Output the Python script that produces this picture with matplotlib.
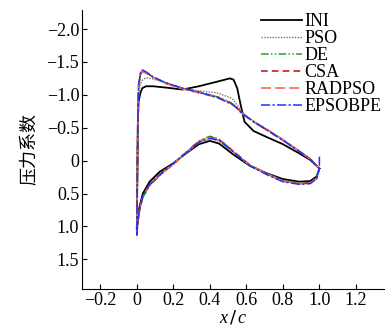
import numpy as np
import matplotlib
matplotlib.use('Agg')
import matplotlib.pyplot as plt

plt.rcParams['font.family'] = ['Liberation Serif', 'Noto Sans CJK SC', 'DejaVu Sans']
plt.rcParams['mathtext.fontset'] = 'custom'
plt.rcParams['mathtext.it'] = 'Liberation Serif:italic'

# upper surface x/c grid (last point repeated for the trailing-edge spike)
xu = [0.0, 0.003, 0.006, 0.01, 0.02, 0.03, 0.05, 0.09, 0.16, 0.25, 0.34, 0.44,
      0.51, 0.53, 0.55, 0.567, 0.59, 0.64, 0.71, 0.80, 0.89, 0.95, 1.0, 1.0]
# lower surface x/c grid
xl = [0.0, 0.005, 0.015, 0.033, 0.07, 0.125, 0.2, 0.27, 0.34, 0.40, 0.45,
      0.53, 0.62, 0.71, 0.80, 0.89, 0.95, 0.985, 1.0]

names = ['INI', 'PSO', 'DE', 'CSA', 'RADPSO', 'EPSOBPE']

cp_upper = {
    'INI':     [1.05, 0.3, -0.6, -0.9, -1.03, -1.10, -1.13, -1.13, -1.11, -1.08, -1.13, -1.20,
                -1.25, -1.23, -1.10, -0.87, -0.59, -0.45, -0.36, -0.25, -0.11, -0.01, 0.12, 0.12],
    'PSO':     [1.08, 0.3, -0.6, -1.0, -1.17, -1.22, -1.26, -1.24, -1.18, -1.10, -1.06, -1.03,
                -0.96, -0.92, -0.84, -0.77, -0.70, -0.60, -0.48, -0.32, -0.15, -0.03, 0.12, 0.12],
    'DE':      [1.10, 0.2, -0.7, -1.12, -1.31, -1.36, -1.34, -1.27, -1.18, -1.10, -1.04, -0.97,
                -0.89, -0.85, -0.80, -0.75, -0.69, -0.59, -0.47, -0.31, -0.14, -0.03, 0.12, 0.12],
    'CSA':     [1.12, 0.2, -0.7, -1.15, -1.32, -1.37, -1.34, -1.27, -1.18, -1.10, -1.04, -0.97,
                -0.88, -0.85, -0.80, -0.75, -0.69, -0.59, -0.47, -0.31, -0.14, -0.02, 0.12, 0.12],
    'RADPSO':  [1.12, 0.2, -0.7, -1.13, -1.30, -1.35, -1.33, -1.26, -1.17, -1.09, -1.03, -0.96,
                -0.88, -0.84, -0.80, -0.75, -0.69, -0.59, -0.48, -0.32, -0.14, -0.02, 0.12, 0.12],
    'EPSOBPE': [1.15, 0.2, -0.7, -1.16, -1.33, -1.38, -1.35, -1.27, -1.18, -1.10, -1.04, -0.96,
                -0.87, -0.84, -0.79, -0.74, -0.69, -0.59, -0.47, -0.31, -0.14, -0.02, 0.12, -0.06],
}

cp_lower = {
    'INI':     [1.05, 0.85, 0.70, 0.50, 0.32, 0.17, 0.04, -0.11, -0.25, -0.30, -0.26,
                -0.09, 0.08, 0.19, 0.28, 0.32, 0.31, 0.24, 0.12],
    'PSO':     [1.08, 0.92, 0.74, 0.55, 0.37, 0.22, 0.06, -0.11, -0.27, -0.33, -0.30,
                -0.12, 0.07, 0.19, 0.30, 0.34, 0.33, 0.26, 0.12],
    'DE':      [1.10, 0.95, 0.76, 0.56, 0.38, 0.23, 0.05, -0.13, -0.30, -0.37, -0.33,
                -0.14, 0.07, 0.20, 0.31, 0.35, 0.34, 0.27, 0.12],
    'CSA':     [1.12, 0.95, 0.75, 0.55, 0.37, 0.22, 0.05, -0.12, -0.29, -0.36, -0.32,
                -0.14, 0.07, 0.20, 0.31, 0.35, 0.34, 0.27, 0.12],
    'RADPSO':  [1.12, 0.94, 0.75, 0.55, 0.37, 0.21, 0.05, -0.12, -0.29, -0.35, -0.31,
                -0.13, 0.07, 0.20, 0.31, 0.35, 0.34, 0.27, 0.12],
    'EPSOBPE': [1.15, 0.95, 0.74, 0.54, 0.36, 0.21, 0.04, -0.12, -0.28, -0.34, -0.31,
                -0.13, 0.08, 0.21, 0.32, 0.36, 0.35, 0.27, 0.12],
}

styles = {
    'INI':     dict(color='black', ls='-', lw=1.3),
    'PSO':     dict(color='0.45', ls=(0, (1, 1)), lw=1.0),
    'DE':      dict(color='#10b010', ls=(0, (5, 1.5, 1, 1.5, 1, 1.5)), lw=1.1),
    'CSA':     dict(color='#c02020', ls=(0, (4, 2.5)), lw=1.2),
    'RADPSO':  dict(color='#ff6a4a', ls=(0, (6, 2.5)), lw=1.2),
    'EPSOBPE': dict(color='#2030ff', ls=(0, (6, 1.5, 1.5, 1.5)), lw=1.1),
}

xticks = [-0.2, 0, 0.2, 0.4, 0.6, 0.8, 1.0, 1.2]
xticklabels = ['\u22120.2', '0', '0.2', '0.4', '0.6', '0.8', '1.0', '1.2']
yticks = [-2.0, -1.5, -1.0, -0.5, 0, 0.5, 1.0, 1.5]
yticklabels = ['\u22122.0', '\u22121.5', '\u22121.0', '\u22120.5', '0', '0.5', '1.0', '1.5']

fig = plt.figure(figsize=(3.85, 3.31), dpi=100)
ax = fig.add_axes([0.213, 0.127, 0.785, 0.843])

for n in names:
    x = list(reversed(xu)) + xl[1:]
    y = list(reversed(cp_upper[n])) + cp_lower[n][1:]
    ax.plot(x, y, label=n, **styles[n])

ax.set_xlim(-0.3, 1.355)
ax.set_ylim(1.95, -2.29)
ax.set_xticks(xticks)
ax.set_xticklabels(xticklabels)
ax.set_yticks(yticks)
ax.set_yticklabels(yticklabels)
ax.tick_params(direction='in', length=3.5, width=0.8, labelsize=13, pad=2)
ax.spines['top'].set_visible(False)
ax.spines['right'].set_visible(False)

ax.set_xlabel('$x\\,/\\,c$', fontsize=13, labelpad=0)
ax.set_ylabel('压力系数', family=['Noto Sans CJK SC'], fontsize=13, labelpad=6)

leg = ax.legend(loc='upper right', bbox_to_anchor=(1.02, 1.02), frameon=False,
                fontsize=13, handlelength=2.3, handletextpad=0.1,
                labelspacing=0.0, borderaxespad=0.1)

fig.savefig('out.png', dpi=100)
